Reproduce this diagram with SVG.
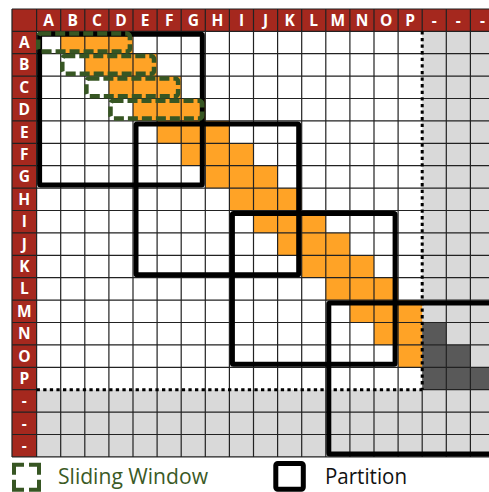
<svg xmlns="http://www.w3.org/2000/svg" width="489" height="492" viewBox="0 0 489 492">
<style>
.hdr{fill:#a5281e}
.ht{font-family:"Open Sans","Liberation Sans",sans-serif;font-weight:bold;font-size:15.5px;fill:#ffffff;text-anchor:middle}
.or{fill:#ffa326}
.dg{fill:#595959}
.lg{fill:#d9d9d9}
.grid{stroke:#222222;stroke-width:1.2;fill:none}
.dot{stroke:#000000;stroke-width:3;stroke-dasharray:3.3 3.3;fill:none}
.part{fill:none;stroke:#000000;stroke-width:5}
.win{fill:none;stroke:#375623;stroke-width:4.5;stroke-dasharray:10 4}
.leg{font-family:"Open Sans","Liberation Sans",sans-serif;font-size:22px}
</style>
<rect width="489" height="492" fill="#ffffff"/>
<g id="grid">
<rect x="36.6" y="31.3" width="385.6" height="358.4" fill="#ffffff"/>
<rect class="lg" x="422.2" y="31.3" width="72.3" height="425.6"/>
<rect class="lg" x="36.6" y="389.7" width="385.6" height="67.2"/>
</g>
<g id="band">
<rect class="or" x="60.7" y="31.3" width="72.3" height="22.4"/>
<rect class="or" x="84.8" y="53.7" width="72.3" height="22.4"/>
<rect class="or" x="108.9" y="76.1" width="72.3" height="22.4"/>
<rect class="or" x="133.0" y="98.5" width="72.3" height="22.4"/>
<rect class="or" x="157.1" y="120.9" width="72.3" height="22.4"/>
<rect class="or" x="181.2" y="143.3" width="72.3" height="22.4"/>
<rect class="or" x="205.3" y="165.7" width="72.3" height="22.4"/>
<rect class="or" x="229.4" y="188.1" width="72.3" height="22.4"/>
<rect class="or" x="253.5" y="210.5" width="72.3" height="22.4"/>
<rect class="or" x="277.6" y="232.9" width="72.3" height="22.4"/>
<rect class="or" x="301.7" y="255.3" width="72.3" height="22.4"/>
<rect class="or" x="325.8" y="277.7" width="72.3" height="22.4"/>
<rect class="or" x="349.9" y="300.1" width="72.3" height="22.4"/>
<rect class="or" x="374.0" y="322.5" width="48.2" height="22.4"/>
<rect class="dg" x="422.2" y="322.5" width="24.1" height="22.4"/>
<rect class="or" x="398.1" y="344.9" width="24.1" height="22.4"/>
<rect class="dg" x="422.2" y="344.9" width="48.2" height="22.4"/>
<rect class="dg" x="422.2" y="367.3" width="72.3" height="22.4"/>
</g>
<g id="header">
<rect class="hdr" x="12" y="9" width="482.5" height="22.3"/>
<rect class="hdr" x="12" y="9" width="24.6" height="447.9"/>
</g>
<g id="gridlines">
<path class="grid" d="M12 9V456.9M36.6 9V456.9M60.7 9V456.9M84.8 9V456.9M108.9 9V456.9M133 9V456.9M157.1 9V456.9M181.2 9V456.9M205.3 9V456.9M229.4 9V456.9M253.5 9V456.9M277.6 9V456.9M301.7 9V456.9M325.8 9V456.9M349.9 9V456.9M374 9V456.9M398.1 9V456.9M422.2 9V31.3M422.2 389.7V456.9M446.3 9V456.9M470.4 9V456.9"/>
<path class="grid" d="M12 9H494.5M12 31.3H494.5M12 53.7H494.5M12 76.1H494.5M12 98.5H494.5M12 120.9H494.5M12 143.3H494.5M12 165.7H494.5M12 188.1H494.5M12 210.5H494.5M12 232.9H494.5M12 255.3H494.5M12 277.7H494.5M12 300.1H494.5M12 322.5H494.5M12 344.9H494.5M12 367.3H494.5M12 389.7H36.6M422.2 389.7H494.5M12 412.1H494.5M12 434.5H494.5M12 456.9H494.5"/>
</g>
<g id="header-text">
<text class="ht" x="48.65" y="26.3">A</text>
<text class="ht" x="72.75" y="26.3">B</text>
<text class="ht" x="96.85" y="26.3">C</text>
<text class="ht" x="120.95" y="26.3">D</text>
<text class="ht" x="145.05" y="26.3">E</text>
<text class="ht" x="169.15" y="26.3">F</text>
<text class="ht" x="193.25" y="26.3">G</text>
<text class="ht" x="217.35" y="26.3">H</text>
<text class="ht" x="241.45" y="26.3">I</text>
<text class="ht" x="265.55" y="26.3">J</text>
<text class="ht" x="289.65" y="26.3">K</text>
<text class="ht" x="313.75" y="26.3">L</text>
<text class="ht" x="337.85" y="26.3">M</text>
<text class="ht" x="361.95" y="26.3">N</text>
<text class="ht" x="386.05" y="26.3">O</text>
<text class="ht" x="410.15" y="26.3">P</text>
<text class="ht" x="434.25" y="26.3">-</text>
<text class="ht" x="458.35" y="26.3">-</text>
<text class="ht" x="482.45" y="26.3">-</text>
<text class="ht" x="24.3" y="48">A</text>
<text class="ht" x="24.3" y="70.4">B</text>
<text class="ht" x="24.3" y="92.8">C</text>
<text class="ht" x="24.3" y="115.2">D</text>
<text class="ht" x="24.3" y="137.6">E</text>
<text class="ht" x="24.3" y="160">F</text>
<text class="ht" x="24.3" y="182.4">G</text>
<text class="ht" x="24.3" y="204.8">H</text>
<text class="ht" x="24.3" y="227.2">I</text>
<text class="ht" x="24.3" y="249.6">J</text>
<text class="ht" x="24.3" y="272">K</text>
<text class="ht" x="24.3" y="294.4">L</text>
<text class="ht" x="24.3" y="316.8">M</text>
<text class="ht" x="24.3" y="339.2">N</text>
<text class="ht" x="24.3" y="361.6">O</text>
<text class="ht" x="24.3" y="384">P</text>
<text class="ht" x="24.3" y="406.4">-</text>
<text class="ht" x="24.3" y="428.8">-</text>
<text class="ht" x="24.3" y="451.2">-</text>
</g>
<g id="padding-boundary">
<path class="dot" d="M422.2 31.3V389.7M36.6 389.7H422.2"/>
</g>
<g id="partition-1"><rect class="part" x="39.6" y="34.3" width="162.7" height="150.8" rx="1"/></g>
<g id="partition-2"><rect class="part" x="136" y="123.9" width="162.7" height="150.8" rx="1"/></g>
<g id="partition-3"><rect class="part" x="232.4" y="213.5" width="162.7" height="150.8" rx="1"/></g>
<g id="partition-4"><rect class="part" x="328.8" y="303.1" width="162.7" height="150.8" rx="1"/></g>
<g id="window-1"><rect class="win" x="38.2" y="33.6" width="91.7" height="17.8" rx="3"/></g>
<g id="window-2"><rect class="win" x="62.3" y="56" width="91.7" height="17.8" rx="3"/></g>
<g id="window-3"><rect class="win" x="86.4" y="78.4" width="91.7" height="17.8" rx="3"/></g>
<g id="window-4"><rect class="win" x="110.5" y="100.8" width="91.7" height="17.8" rx="3"/></g>
<g id="legend-window">
<rect x="14" y="464.7" width="25" height="25" fill="none" stroke="#375623" stroke-width="4" stroke-dasharray="20 5" stroke-dashoffset="10"/>
<text class="leg" x="58" y="483.5" fill="#3b5a26" textLength="150" lengthAdjust="spacingAndGlyphs">Sliding Window</text>
</g>
<g id="legend-partition">
<rect x="275.8" y="463.5" width="27.5" height="25.7" rx="2" fill="none" stroke="#000000" stroke-width="5"/>
<text class="leg" x="325" y="484.3" fill="#111111" textLength="82" lengthAdjust="spacingAndGlyphs">Partition</text>
</g>
</svg>
